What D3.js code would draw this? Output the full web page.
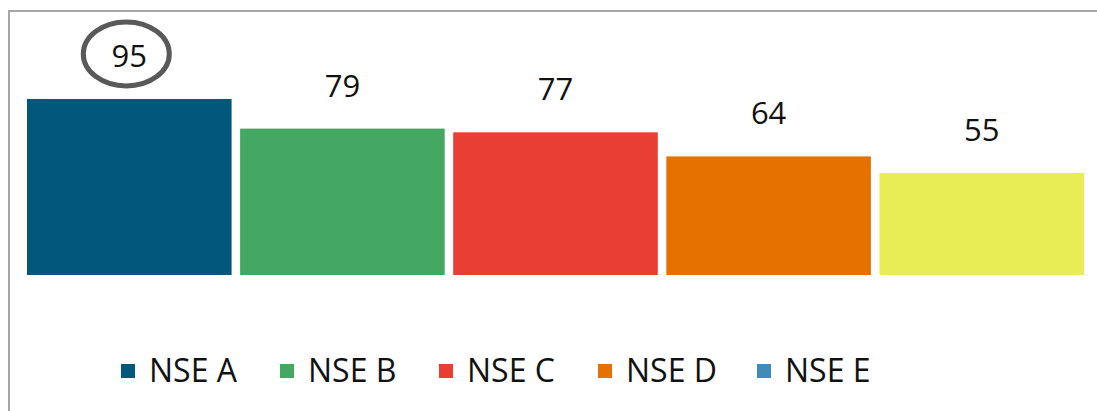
<!DOCTYPE html>
<html lang="en">
<head>
	<meta charset="utf-8">
	<title>NSE</title>
	<script src="https://cdn.jsdelivr.net/npm/d3@7"></script>
	<style>
		body {
			margin: 0;
			background: #fff;
			font-family: "Open Sans", "Noto Sans", sans-serif;
		}
	</style>
</head>
<body>
	<script>
		// data
		var categories = ["NSE A", "NSE B", "NSE C", "NSE D", "NSE E"];
		var values = [95, 79, 77, 64, 55];
		var barColors = ["#02587a", "#44a862", "#e83e33", "#e57200", "#e8ec55"];
		var legendColors = ["#02587a", "#44a862", "#e83e33", "#e57200", "#428bb8"];

		var width = 1097;
		var height = 411;

		var svg = d3.select("body")
			.append("svg")
			.attr("width", width)
			.attr("height", height);

		// frame (top and left edges only visible)
		svg.append("path")
			.attr("d", "M9," + height + "V11H" + width)
			.attr("fill", "none")
			.attr("stroke", "#a6a6a6")
			.attr("stroke-width", 2);

		var x = d3.scaleBand()
			.domain(categories)
			.range([27, 1084])
			.paddingInner(0.04)
			.paddingOuter(0);

		var y = d3.scaleLinear()
			.domain([0, 100])
			.range([275, 275 - 185.3]);

		var bars = svg.append("g");

		bars.selectAll("rect")
			.data(values)
			.enter()
			.append("rect")
			.attr("x", function(d, i){ return x(categories[i]); })
			.attr("y", function(d){ return y(d); })
			.attr("width", x.bandwidth())
			.attr("height", function(d){ return y(0) - y(d); })
			.attr("fill", function(d, i){ return barColors[i]; });

		// value labels
		bars.selectAll("text")
			.data(values)
			.enter()
			.append("text")
			.attr("x", function(d, i){ return x(categories[i]) + x.bandwidth() / 2; })
			.attr("y", function(d){ return y(d) - 32; })
			.attr("text-anchor", "middle")
			.attr("font-size", 31)
			.attr("fill", "#111")
			.text(function(d){ return d; });

		// highlight circle round the top value
		svg.append("ellipse")
			.attr("cx", x(categories[0]) + x.bandwidth() / 2 - 3)
			.attr("cy", y(values[0]) - 45)
			.attr("rx", 43)
			.attr("ry", 32)
			.attr("fill", "none")
			.attr("stroke", "#595959")
			.attr("stroke-width", 5);

		// legend
		var legend = svg.append("g")
			.attr("transform", "translate(121,0)");

		var item = legend.selectAll("g")
			.data(categories)
			.enter()
			.append("g")
			.attr("transform", function(d, i){ return "translate(" + (i * 159) + ",0)"; });

		item.append("rect")
			.attr("x", 0)
			.attr("y", 364)
			.attr("width", 14)
			.attr("height", 14)
			.attr("fill", function(d, i){ return legendColors[i]; });

		item.append("text")
			.attr("x", 28)
			.attr("y", 382)
			.attr("font-size", 32)
			.attr("fill", "#111")
			.text(function(d){ return d; });
	</script>
</body>
</html>
